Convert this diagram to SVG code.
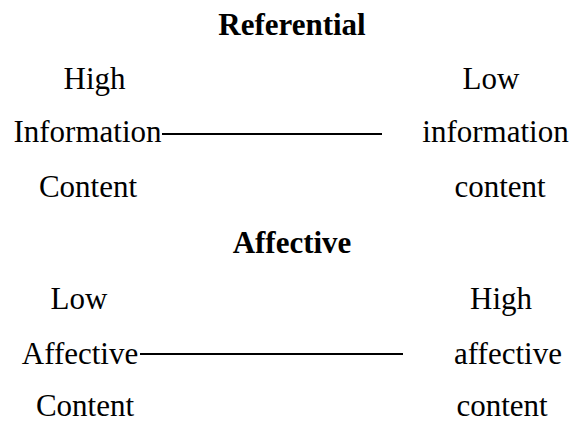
<svg xmlns="http://www.w3.org/2000/svg" width="574" height="424" viewBox="0 0 574 424">
<style>
text{font-family:"Liberation Serif","Times New Roman",serif;font-size:31px;fill:#000;text-anchor:middle}
.t{font-weight:bold}
.c{stroke:#000;stroke-width:2;fill:none}
</style>
<rect width="574" height="424" fill="#fff"/>
<g id="referential-title"><text class="t" x="292" y="35">Referential</text></g>
<g id="high-information-content"><text x="94.5" y="89">High</text><text x="87.5" y="142">Information</text><text x="88" y="197">Content</text></g>
<g id="low-information-content"><text x="491" y="89">Low</text><text x="495.5" y="142">information</text><text x="500" y="197">content</text></g>
<g id="affective-title"><text class="t" x="292" y="253">Affective</text></g>
<g id="low-affective-content"><text x="79" y="309">Low</text><text x="80" y="364">Affective</text><text x="85" y="416">Content</text></g>
<g id="high-affective-content"><text x="501" y="309">High</text><text x="508" y="364">affective</text><text x="502" y="416">content</text></g>
<g id="connectors">
<line class="c" x1="162" y1="134" x2="382" y2="134"/>
<line class="c" x1="140" y1="354" x2="403" y2="354"/>
</g>
</svg>
